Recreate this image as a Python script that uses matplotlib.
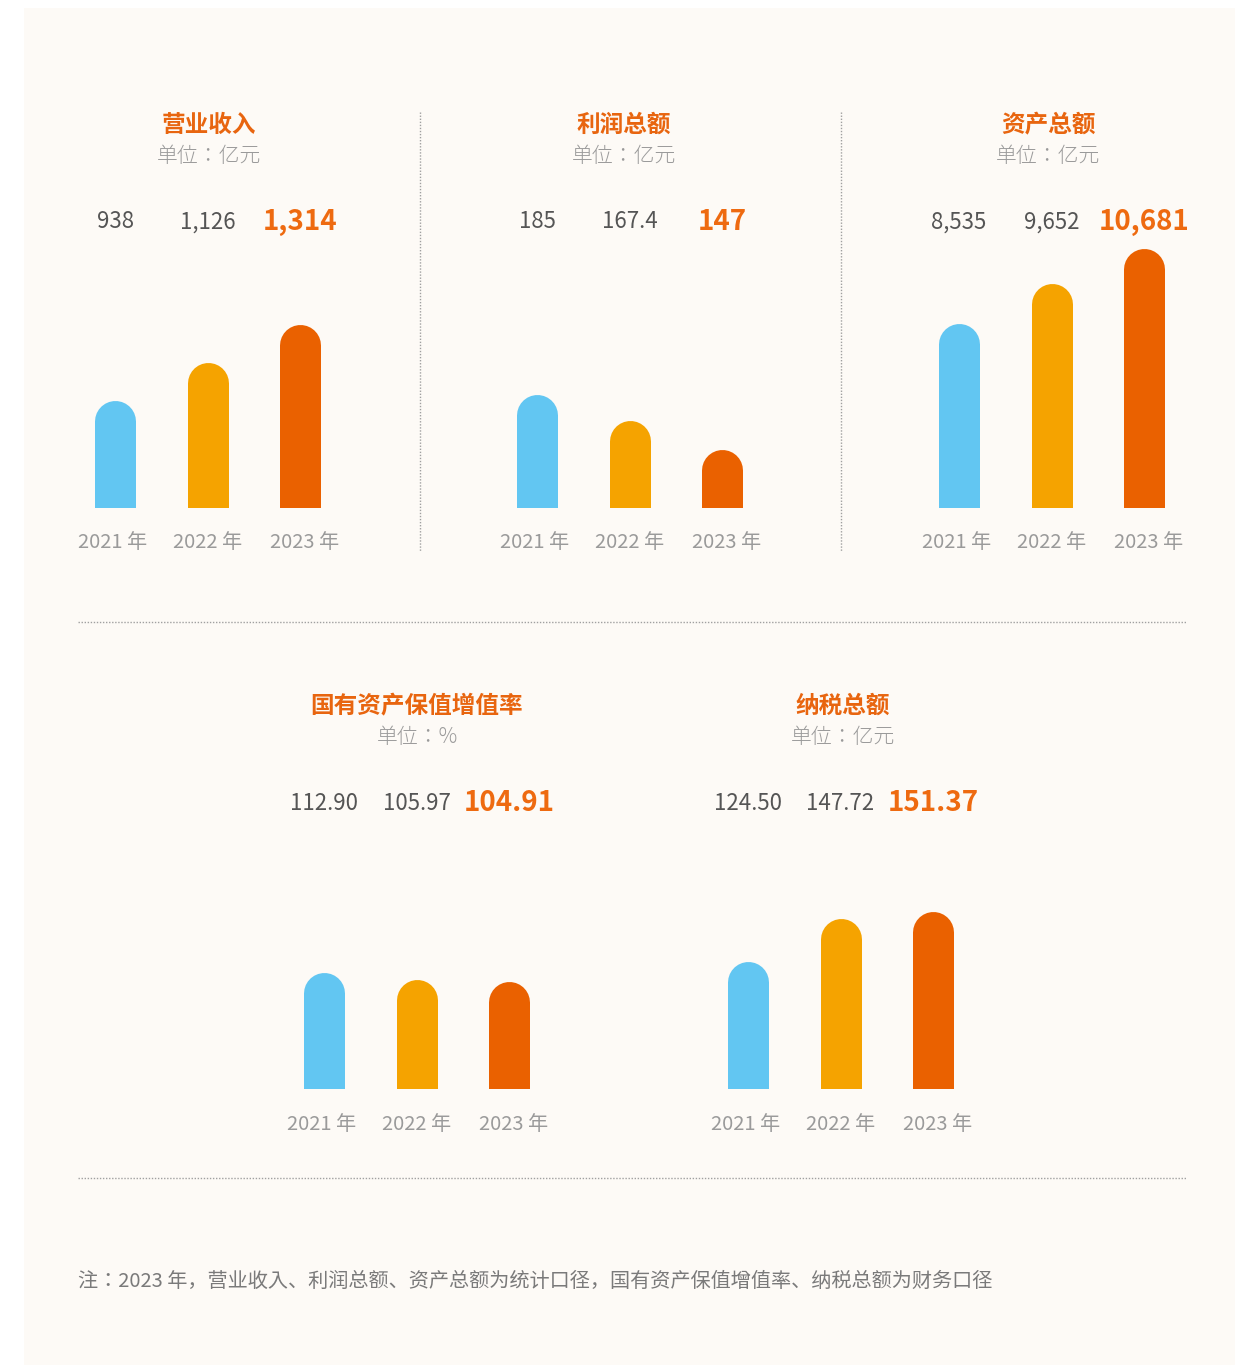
import matplotlib
matplotlib.use('Agg')
import matplotlib.pyplot as plt
from matplotlib.patches import Rectangle
from matplotlib.lines import Line2D
from matplotlib.transforms import blended_transform_factory

plt.rcParams['font.family'] = ['Noto Sans CJK SC', 'DejaVu Sans']

# ---- data ----
YEARS = ['2021 年', '2022 年', '2023 年']

REVENUE = [938, 1126, 1314]
REVENUE_LABELS = ['938', '1,126', '1,314']

PROFIT = [185, 167.4, 147]
PROFIT_LABELS = ['185', '167.4', '147']

ASSETS = [8535, 9652, 10681]
ASSETS_LABELS = ['8,535', '9,652', '10,681']

RATE = [112.90, 105.97, 104.91]
RATE_LABELS = ['112.90', '105.97', '104.91']

TAX = [124.50, 147.72, 151.37]
TAX_LABELS = ['124.50', '147.72', '151.37']

NOTE = '注：2023 年，营业收入、利润总额、资产总额为统计口径，国有资产保值增值率、纳税总额为财务口径'

# ---- style ----
W, H = 1249, 1367
DPI = 100
BG = '#FDFAF6'
BAR_COLORS = ['#62C6F2', '#F5A300', '#EA6100']
TITLE_C = '#E8650F'
HILITE_C = '#EE6A10'
NUM_C = '#555555'
SUB_C = '#9A9A9A'
LINE_C = '#A0A0A0'
BAR_PX = 41
STEP_PX = 92.5
AX_H = 300
YEAR_SHIFT = [-0.03, 0.0, 0.05]   # year labels sit slightly wider apart than bars
JP = ['Noto Sans CJK JP', 'DejaVu Sans']  # centred full-width colon


def px_axes(fig, left, bottom, width, height):
    """Axes from pixel box (top-left origin, bottom = baseline y)."""
    return fig.add_axes([left / W, 1 - bottom / H, width / W, height / H])


def panel(fig, cx0, base_y, title, unit, title_x, title_y, values, labels, ylim):
    """One small bar chart with rounded tops, title, unit and value labels."""
    left = cx0 - STEP_PX / 2
    ax = px_axes(fig, left, base_y, STEP_PX * 3, AX_H)
    ax.set_xlim(-0.5, 2.5)
    ax.set_ylim(*ylim)
    ax.axis('off')

    lo, hi = ylim
    r_data = (BAR_PX / 2) * (hi - lo) / AX_H
    lw_pt = BAR_PX * 72 / DPI
    for i, v in enumerate(values):
        ax.plot([i, i], [lo - (hi - lo), v - r_data], color=BAR_COLORS[i],
                lw=lw_pt, solid_capstyle='round', clip_on=True)

    trans = blended_transform_factory(ax.transData, fig.transFigure)
    for i, lab in enumerate(labels):
        last = i == len(labels) - 1
        ax.text(i, 1 - (title_y + 99) / H, lab, transform=trans,
                ha='center', va='center',
                fontsize=20 if last else 16,
                fontweight='bold' if last else 'light',
                color=HILITE_C if last else NUM_C)
        ax.text(i + YEAR_SHIFT[i], 1 - (base_y + 35) / H, YEARS[i],
                transform=trans, ha='center', va='center',
                fontsize=14.5, fontweight='light', color=SUB_C)

    fig.text(title_x / W, 1 - (title_y + 2) / H, title, ha='center', va='center',
             fontsize=17, fontweight='bold', color=TITLE_C)
    fig.text(title_x / W, 1 - (title_y + 33) / H, unit, ha='center', va='center',
             fontsize=15, fontweight='light', color=SUB_C, family=JP)
    return ax


def dotted_line(fig, xs, ys):
    fig.add_artist(Line2D([x / W for x in xs], [1 - y / H for y in ys],
                          color=LINE_C, lw=1.0, linestyle=(0, (1, 1.2))))


def main():
    fig = plt.figure(figsize=(W / DPI, H / DPI), dpi=DPI, facecolor='white')

    # cream background card
    fig.add_artist(Rectangle((24 / W, 1 - 1365 / H), (1235 - 24) / W, (1365 - 8) / H,
                             transform=fig.transFigure, facecolor=BG,
                             edgecolor='none', zorder=-10))

    # top row
    panel(fig, 115, 508, '营业收入', '单位：亿元', 209, 123, REVENUE, REVENUE_LABELS,
          (403.5, 1894))
    panel(fig, 537, 508, '利润总额', '单位：亿元', 624, 123, PROFIT, PROFIT_LABELS,
          (106.5, 314.8))
    panel(fig, 959, 508, '资产总额', '单位：亿元', 1048, 123, ASSETS, ASSETS_LABELS,
          (3242, 11826))

    # bottom row
    panel(fig, 324, 1089, '国有资产保值增值率', '单位：%', 417, 704, RATE, RATE_LABELS,
          (10.0, 273.9))
    panel(fig, 748, 1089, '纳税总额', '单位：亿元', 843, 704, TAX, TAX_LABELS,
          (55.85, 217.2))

    # separators
    dotted_line(fig, [420, 420], [112, 551])
    dotted_line(fig, [841, 841], [112, 551])
    dotted_line(fig, [78, 1186], [622, 622])
    dotted_line(fig, [78, 1186], [1178, 1178])

    # footnote
    fig.text(78 / W, 1 - 1281 / H, NOTE, ha='left', va='center',
             fontsize=14.5, color='#7A7A7A', family=JP)

    fig.savefig('out.png', dpi=DPI, facecolor='white')
    plt.close(fig)


if __name__ == '__main__':
    main()
